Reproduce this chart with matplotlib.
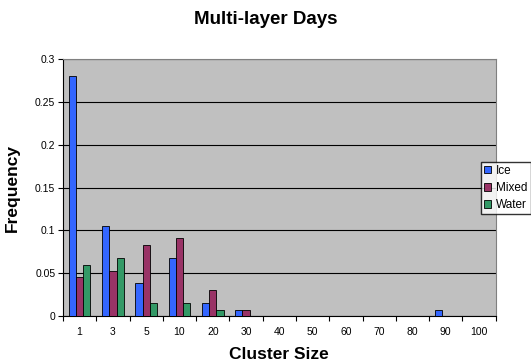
import numpy as np
import matplotlib.pyplot as plt

plt.rcParams['font.family'] = ['Liberation Sans', 'DejaVu Sans']

sizes = ["1", "3", "5", "10", "20", "30", "40", "50", "60", "70", "80", "90", "100"]
ice = [0.28, 0.105, 0.038, 0.068, 0.015, 0.0075, 0, 0, 0, 0, 0, 0.0075, 0]
mixed = [0.045, 0.053, 0.083, 0.091, 0.03, 0.0075, 0, 0, 0, 0, 0, 0, 0]
water = [0.06, 0.068, 0.015, 0.015, 0.0075, 0, 0, 0, 0, 0, 0, 0, 0]

fig = plt.figure(figsize=(5.31, 3.62), dpi=100)
ax = fig.add_axes([0.1186, 0.127, 0.815, 0.71])
ax.set_facecolor("#C0C0C0")

x = np.arange(len(sizes))
w = 0.216
ax.bar(x - w, ice, w, color="#3366FF", edgecolor="black", linewidth=0.6, label="Ice", zorder=3)
ax.bar(x, mixed, w, color="#993366", edgecolor="black", linewidth=0.6, label="Mixed", zorder=3)
ax.bar(x + w, water, w, color="#339966", edgecolor="black", linewidth=0.6, label="Water", zorder=3)

ax.set_xlim(-0.5, len(sizes) - 0.5)
ax.set_ylim(0, 0.3)
ax.set_yticks([0, 0.05, 0.1, 0.15, 0.2, 0.25, 0.3])
ax.set_yticklabels(["0", "0.05", "0.1", "0.15", "0.2", "0.25", "0.3"], fontsize=7.5)
ax.set_xticks(x)
ax.set_xticklabels(sizes, fontsize=7.5)
ax.tick_params(axis="x", length=0, pad=8)
ax.set_xticks(np.arange(len(sizes) + 1) - 0.5, minor=True)
ax.tick_params(axis="x", which="minor", length=3.5, width=0.8)
ax.tick_params(axis="y", length=3.5, width=0.8, pad=2)
ax.yaxis.grid(True, color="black", linewidth=0.8, zorder=0)

for side in ["top", "right"]:
    ax.spines[side].set_color("#808080")
    ax.spines[side].set_linewidth(0.8)

# title is centred on the whole figure, not on the axes
fig.text(0.5, 0.947, "Multi-layer Days", fontsize=13.5, fontweight="bold",
         ha="center", va="center")
ax.set_xlabel("Cluster Size", fontsize=12.5, fontweight="bold", labelpad=7)
ax.set_ylabel("Frequency", fontsize=12.5, fontweight="bold", labelpad=11)

ax.legend(loc="upper left", bbox_to_anchor=(0.966, 0.60), fontsize=8.5, frameon=True,
          fancybox=False, edgecolor="black", handlelength=0.6, handleheight=0.6,
          handletextpad=0.45, borderpad=0.25, labelspacing=0.45, borderaxespad=0)

fig.savefig("out.png", dpi=100)
